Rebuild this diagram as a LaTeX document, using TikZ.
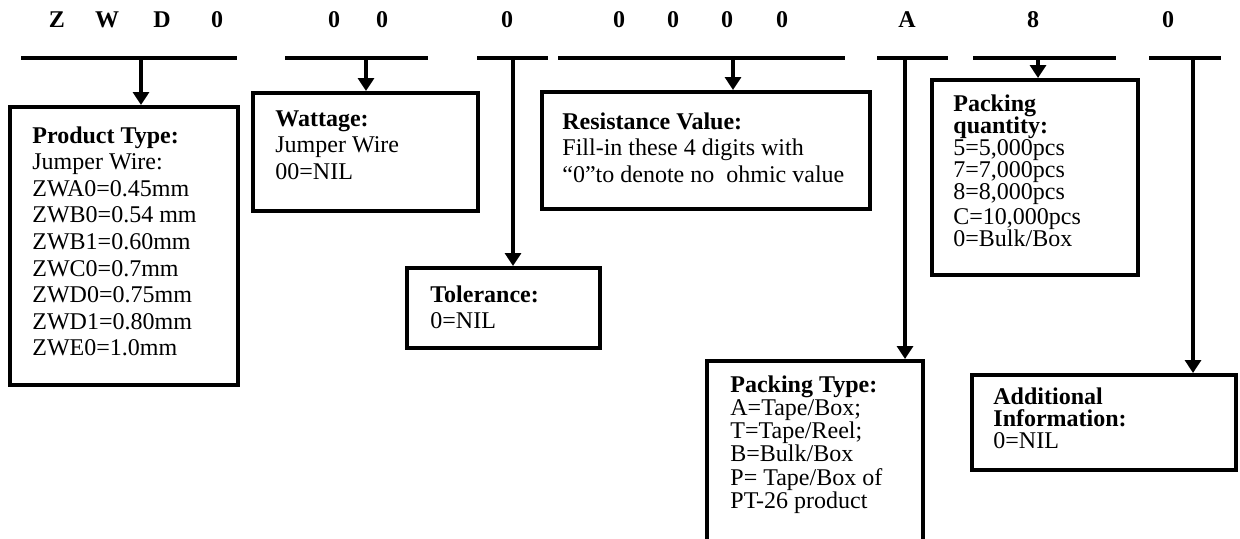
\documentclass[tikz,border=0pt]{standalone}
\usepackage{fontspec}
\setmainfont{Liberation Serif}
\usetikzlibrary{fit,arrows.meta}
\begin{document}
\begin{tikzpicture}[x=0.5pt,y=-0.5pt,
  hd/.style={font=\bfseries\fontsize{12}{14}\selectfont, inner sep=0},
  bar/.style={line width=2pt},
  box/.style={draw, line width=2pt, inner sep=0},
  arr/.style={line width=1.6pt, -{Triangle[length=6.5pt,width=8pt]}},
  txt/.style={anchor=north west, inner sep=0, align=left, font=\fontsize{12}{13.3}\selectfont},
  tight/.style={anchor=north west, inner sep=0, align=left, font=\fontsize{12}{11}\selectfont},
]
\useasboundingbox (0,0) rectangle (1240,538);
\fill[white] (0,0) rectangle (1240,538);
% header characters
\node[hd] (h1) at (57,20) {Z};
\node[hd] (h2) at (107,20) {W};
\node[hd] (h3) at (162,20) {D};
\node[hd] (h4) at (217,20) {0};
\node[hd] (h5) at (334,20) {0};
\node[hd] (h6) at (382,20) {0};
\node[hd] (h7) at (507,20) {0};
\node[hd] (h8) at (619,20) {0};
\node[hd] (h9) at (673,20) {0};
\node[hd] (h10) at (727,20) {0};
\node[hd] (h11) at (782,20) {0};
\node[hd] (h12) at (907,20) {A};
\node[hd] (h13) at (1033,20) {8};
\node[hd] (h14) at (1168,20) {0};
% bars
\coordinate (b1w) at (21,58);   \coordinate (b1e) at (237,58);
\coordinate (b2w) at (285,58);  \coordinate (b2e) at (428,58);
\coordinate (b3w) at (477,58);  \coordinate (b3e) at (548,58);
\coordinate (b4w) at (558,58);  \coordinate (b4e) at (845,58);
\coordinate (b5w) at (877,58);  \coordinate (b5e) at (948,58);
\coordinate (b6w) at (973,58);  \coordinate (b6e) at (1116,58);
\coordinate (b7w) at (1149,58); \coordinate (b7e) at (1221,58);
\foreach \i in {1,...,7} {\draw[bar] (b\i w) -- (b\i e);}
% boxes
\node[box, fit={(10,107) (238,385)}] (box1) {};
\node[box, fit={(253,93) (478,211)}] (box2) {};
\node[box, fit={(407,268) (600,348)}] (box3) {};
\node[box, fit={(542,92) (870,209)}] (box4) {};
\node[box, fit={(707,361) (923,560)}] (box5) {};
\node[box, fit={(932,80) (1138,275)}] (box6) {};
\node[box, fit={(972,375) (1236,470)}] (box7) {};
% connectors
\coordinate (s1) at (141,58);
\coordinate (s2) at (366,58);
\coordinate (s3) at (513,58);
\coordinate (s4) at (733,58);
\coordinate (s5) at (905,58);
\coordinate (s6) at (1038,58);
\coordinate (s7) at (1193,58);
\draw[arr] (s1) -- (s1 |- box1.north);
\draw[arr] (s2) -- (s2 |- box2.north);
\draw[arr] (s3) -- (s3 |- box3.north);
\draw[arr] (s4) -- (s4 |- box4.north);
\draw[arr] (s5) -- (s5 |- box5.north);
\draw[arr] (s6) -- (s6 |- box6.north);
\draw[arr] (s7) -- (s7 |- box7.north);
% texts
\node[txt] (t1) at (32,126) {\textbf{Product Type:}\\Jumper Wire:\\ZWA0=0.45mm\\ZWB0=0.54 mm\\ZWB1=0.60mm\\ZWC0=0.7mm\\ZWD0=0.75mm\\ZWD1=0.80mm\\ZWE0=1.0mm};
\node[txt] (t2) at (275,110) {\textbf{Wattage:}\\Jumper Wire\\00=NIL};
\node[txt] (t3) at (430,285) {\textbf{Tolerance:}\\0=NIL};
\node[txt] (t4) at (562,112) {\textbf{Resistance Value:}\\Fill-in these 4 digits with\\“0”to denote no\ \ ohmic value};
\node[tight, font=\fontsize{12}{11.65}\selectfont] (t5) at (730,375) {\textbf{Packing Type:}\\A=Tape/Box;\\T=Tape/Reel;\\B=Bulk/Box\\P= Tape/Box of\\PT-26 product};
\node[tight] (t6) at (953,94) {\textbf{Packing}\\\textbf{quantity:}\\5=5,000pcs\\7=7,000pcs\\8=8,000pcs\\[1.5pt]C=10,000pcs\\0=Bulk/Box};
\node[tight] (t7) at (993,387) {\textbf{Additional}\\\textbf{Information:}\\0=NIL};
\end{tikzpicture}
\end{document}
